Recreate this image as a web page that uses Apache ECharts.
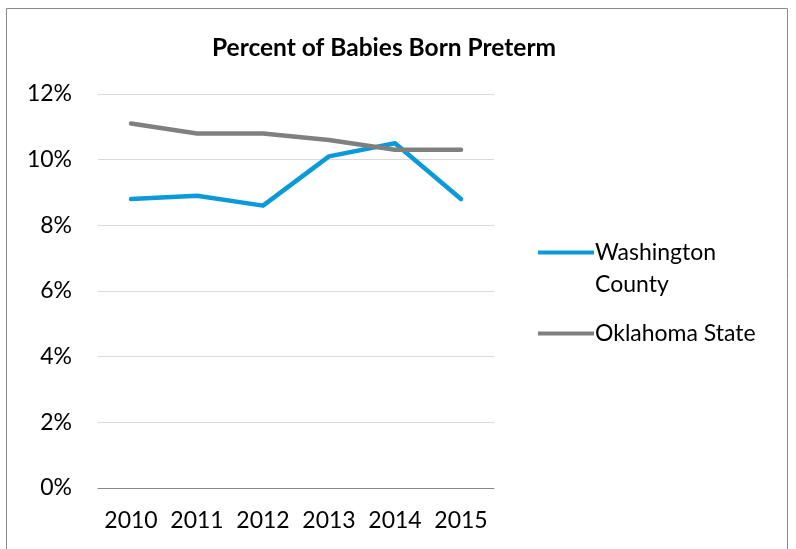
<!DOCTYPE html>
<html>
<head>
  <meta charset="utf-8">
  <script src="https://cdn.jsdelivr.net/npm/echarts@6/dist/echarts.min.js"></script>
  <style>
    html, body { margin: 0; padding: 0; background: #fff; }
  </style>
</head>
<body>
<div id="main" style="width: 796px; height: 549px"></div>
<script>
  const years = ['2010', '2011', '2012', '2013', '2014', '2015'];
  const washington = [8.8, 8.9, 8.6, 10.1, 10.5, 8.8];
  const oklahoma = [11.1, 10.8, 10.8, 10.6, 10.3, 10.3];
  const yTicks = [0, 2, 4, 6, 8, 10, 12];

  const font = 'Lato, "Open Sans", sans-serif';
  const chart = echarts.init(document.getElementById('main'));

  chart.setOption({
    animation: false,
    title: {
      text: 'Percent of Babies Born Preterm',
      left: 379,
      textAlign: 'center',
      top: 31,
      textStyle: { fontFamily: font, fontSize: 24.5, fontWeight: 'bold', color: '#000' }
    },
    graphic: [{
      type: 'rect',
      shape: { x: 6.5, y: 8.5, width: 781, height: 560 },
      style: { fill: 'none', stroke: '#8a8a8a', lineWidth: 1 },
      silent: true
    }, {
      // second line of the wrapped legend label
      type: 'text',
      left: 595,
      top: 273,
      style: { text: 'County', fontFamily: font, fontSize: 23, fill: '#000' },
      silent: true
    }],
    legend: {
      orient: 'vertical',
      left: 533,
      top: 231,
      itemWidth: 56,
      itemHeight: 4,
      itemGap: 48,
      icon: 'rect',
      formatter: name => name === 'Washington County' ? 'Washington' : name,
      textStyle: { fontFamily: font, fontSize: 23, color: '#000', lineHeight: 33, padding: [0, 0, 0, -4] },
      data: ['Washington County', 'Oklahoma State']
    },
    grid: { left: 98, right: 302, top: 94, bottom: 61 },
    xAxis: {
      type: 'category',
      data: years,
      boundaryGap: true,
      axisLine: { lineStyle: { color: '#888', width: 1 } },
      axisTick: { inside: false, length: 6, lineStyle: { color: '#888' } },
      axisLabel: { interval: 0, fontFamily: font, fontSize: 23, color: '#000', margin: 21 }
    },
    yAxis: {
      type: 'value',
      min: yTicks[0],
      max: yTicks[yTicks.length - 1],
      interval: 2,
      axisLine: { show: false },
      axisTick: { show: false },
      splitLine: { lineStyle: { color: '#d9d9d9', width: 1 } },
      axisLabel: { fontFamily: font, fontSize: 23, color: '#000', margin: 26, formatter: '{value}%' }
    },
    series: [{
      name: 'Washington County',
      type: 'line',
      data: washington,
      symbol: 'none',
      lineStyle: { color: '#0a9ad7', width: 4.5, cap: 'round', join: 'round' },
      itemStyle: { color: '#0a9ad7' }
    }, {
      name: 'Oklahoma State',
      type: 'line',
      data: oklahoma,
      symbol: 'none',
      lineStyle: { color: '#808080', width: 4.5, cap: 'round', join: 'round' },
      itemStyle: { color: '#808080' }
    }]
  });
</script>
</body>
</html>
